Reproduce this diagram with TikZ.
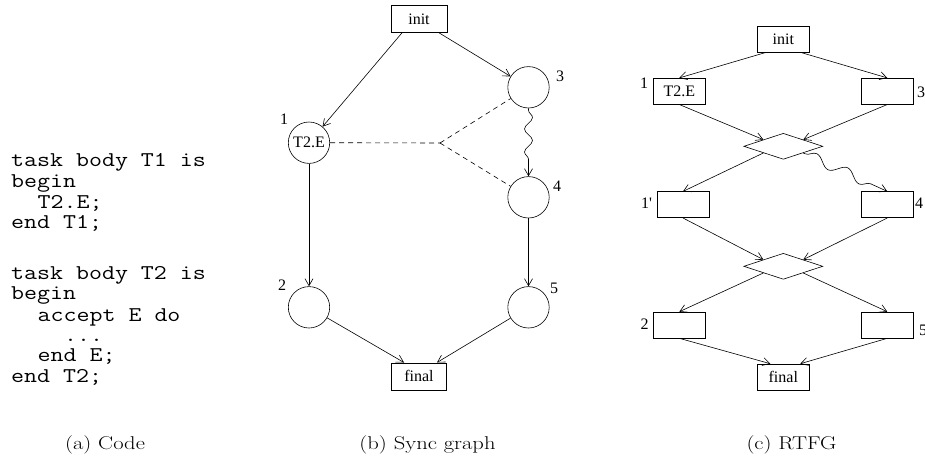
\documentclass[tikz,border=0pt]{standalone}
\usepackage{fontspec}
\newfontfamily\tms{Liberation Serif}
\usetikzlibrary{arrows.meta,shapes.geometric,decorations.pathmorphing,calc}
\newcommand{\codetxt}[1]{\scalebox{1.2}[1]{#1}}
\newcommand{\captxt}[1]{\scalebox{1.22}[1]{#1}}
\tikzset{
  lbl/.style={inner sep=0pt, font=\tms\fontsize{16}{18}\selectfont},
  boxnode/.style={draw, rectangle, line width=0.6pt, minimum width=55pt, minimum height=27pt, inner sep=0pt, font=\tms\fontsize{16}{18}\selectfont},
  rbox/.style={boxnode, minimum width=52pt, minimum height=26pt},
  circnode/.style={draw, circle, line width=0.6pt, minimum size=41.4pt, inner sep=0pt, font=\tms\fontsize{16}{18}\selectfont},
  dia/.style={draw, diamond, line width=0.6pt, minimum width=79pt, minimum height=26pt, inner sep=0pt, shape aspect=3},
  arr/.style={-{Straight Barb[length=7pt,width=8pt]}, line width=0.6pt},
  wavy/.style={arr, decorate, decoration={snake, amplitude=4pt, segment length=23pt, pre length=2pt, post length=6pt}},
  wavyb/.style={arr, decorate, decoration={snake, amplitude=5pt, segment length=34pt, pre length=2pt, post length=8pt}},
  dsh/.style={dash pattern=on 5pt off 4pt, line width=0.6pt},
  codeline/.style={anchor=base west, inner sep=0pt, font=\ttfamily\fontsize{21}{24}\selectfont},
  captext/.style={anchor=base, inner sep=0pt, font=\fontsize{18.5}{22}\selectfont}
}
\begin{document}
\begin{tikzpicture}[x=1pt, y=-1pt]
\useasboundingbox (0,0) rectangle (925,461);

% (a) Code
\node[codeline] (l1) at (11,166.7) {\codetxt{task body T1 is}};
\node[codeline] (l2) at (11,187) {\codetxt{begin}};
\node[codeline] (l3) at (37.5,208) {\codetxt{T2.E;}};
\node[codeline] (l4) at (11,228.3) {\codetxt{end T1;}};
\node[codeline] (l5) at (11,279.3) {\codetxt{task body T2 is}};
\node[codeline] (l6) at (11,299.8) {\codetxt{begin}};
\node[codeline] (l7) at (37.5,321.5) {\codetxt{accept E do}};
\node[codeline] (l8) at (63.9,341.7) {\codetxt{...}};
\node[codeline] (l9) at (37.5,361.7) {\codetxt{end E;}};
\node[codeline] (l10) at (11,382.5) {\codetxt{end T2;}};

% (b) Sync graph
\node[boxnode, minimum width=56pt] (init) at (419,19) {init};
\node[circnode] (c1) at (309,142.7) {T2.E};
\node[circnode] (c3) at (528.5,87.3) {};
\node[circnode] (c4) at (528.5,197.3) {};
\node[circnode] (c2) at (309,307.3) {};
\node[circnode] (c5) at (528.5,307.3) {};
\node[boxnode] (final) at (419,376.3) {final};
\coordinate (j) at (440,143);

\node[lbl] (n1) at (284,119) {1};
\node[lbl] (n3) at (560,76) {3};
\node[lbl] (n4) at (557,186) {4};
\node[lbl] (n2) at (282,285) {2};
\node[lbl] (n5) at (554,288) {5};

\draw[arr] ([xshift=-17pt]init.south) -- (c1);
\draw[arr] ([xshift=20pt]init.south) -- (c3);
\draw[arr] (c1) -- (c2);
\draw[arr] (c4) -- (c5);
\draw[arr] (c2) -- ([xshift=-15pt]final.north);
\draw[arr] (c5) -- ([xshift=18pt]final.north);
\draw[wavy] (c3.south) -- (c4.north);
\draw[dsh] (c1.east) -- (j);
\draw[dsh] (j) -- (c3);
\draw[dsh] (j) -- (c4);

% (c) RTFG
\node[rbox] (init2) at (783.3,39) {init};
\node[rbox] (b1) at (679.3,91.2) {T2.E};
\node[rbox] (b3) at (887.3,91.2) {};
\node[dia] (d1) at (783.3,146.3) {};
\node[rbox] (b1p) at (683,204.7) {};
\node[rbox] (b4) at (887.3,204.7) {};
\node[dia] (d2) at (783.3,266.3) {};
\node[rbox] (b2) at (679.3,325) {};
\node[rbox] (b5) at (887.3,325) {};
\node[rbox] (final2) at (783.3,377) {final};

\node[lbl] (m1) at (644,83.5) {1};
\node[lbl] (m3) at (921,92) {3};
\node[lbl] (m1p) at (646.5,203) {1'};
\node[lbl] (m4) at (919,203) {4};
\node[lbl] (m2) at (644.5,324) {2};
\node[lbl] (m5) at (923,330) {5};

\draw[arr] ([xshift=-17pt]init2.south) -- (b1.north);
\draw[arr] ([xshift=17pt]init2.south) -- (b3.north);
\draw[arr] (b1.south) -- ($(d1.west)!0.5!(d1.north)$);
\draw[arr] (b3.south) -- ($(d1.east)!0.5!(d1.north)$);
\draw[arr] ($(d1.west)!0.5!(d1.south)$) -- (b1p.north);
\draw[wavyb] ($(d1.east)!0.5!(d1.south)$) -- (b4.north);
\draw[arr] (b1p.south) -- ($(d2.west)!0.5!(d2.north)$);
\draw[arr] (b4.south) -- ($(d2.east)!0.5!(d2.north)$);
\draw[arr] ($(d2.west)!0.5!(d2.south)$) -- (b2.north);
\draw[arr] ($(d2.east)!0.5!(d2.south)$) -- (b5.north);
\draw[arr] (b2.south) -- ([xshift=-13pt]final2.north);
\draw[arr] (b5.south) -- ([xshift=17pt]final2.north);

% captions
\node[captext] (capa) at (105,449) {\captxt{(a) Code}};
\node[captext] (capb) at (427.5,449) {\captxt{(b) Sync graph}};
\node[captext] (capc) at (791.5,449) {\captxt{(c) RTFG}};
\end{tikzpicture}
\end{document}
